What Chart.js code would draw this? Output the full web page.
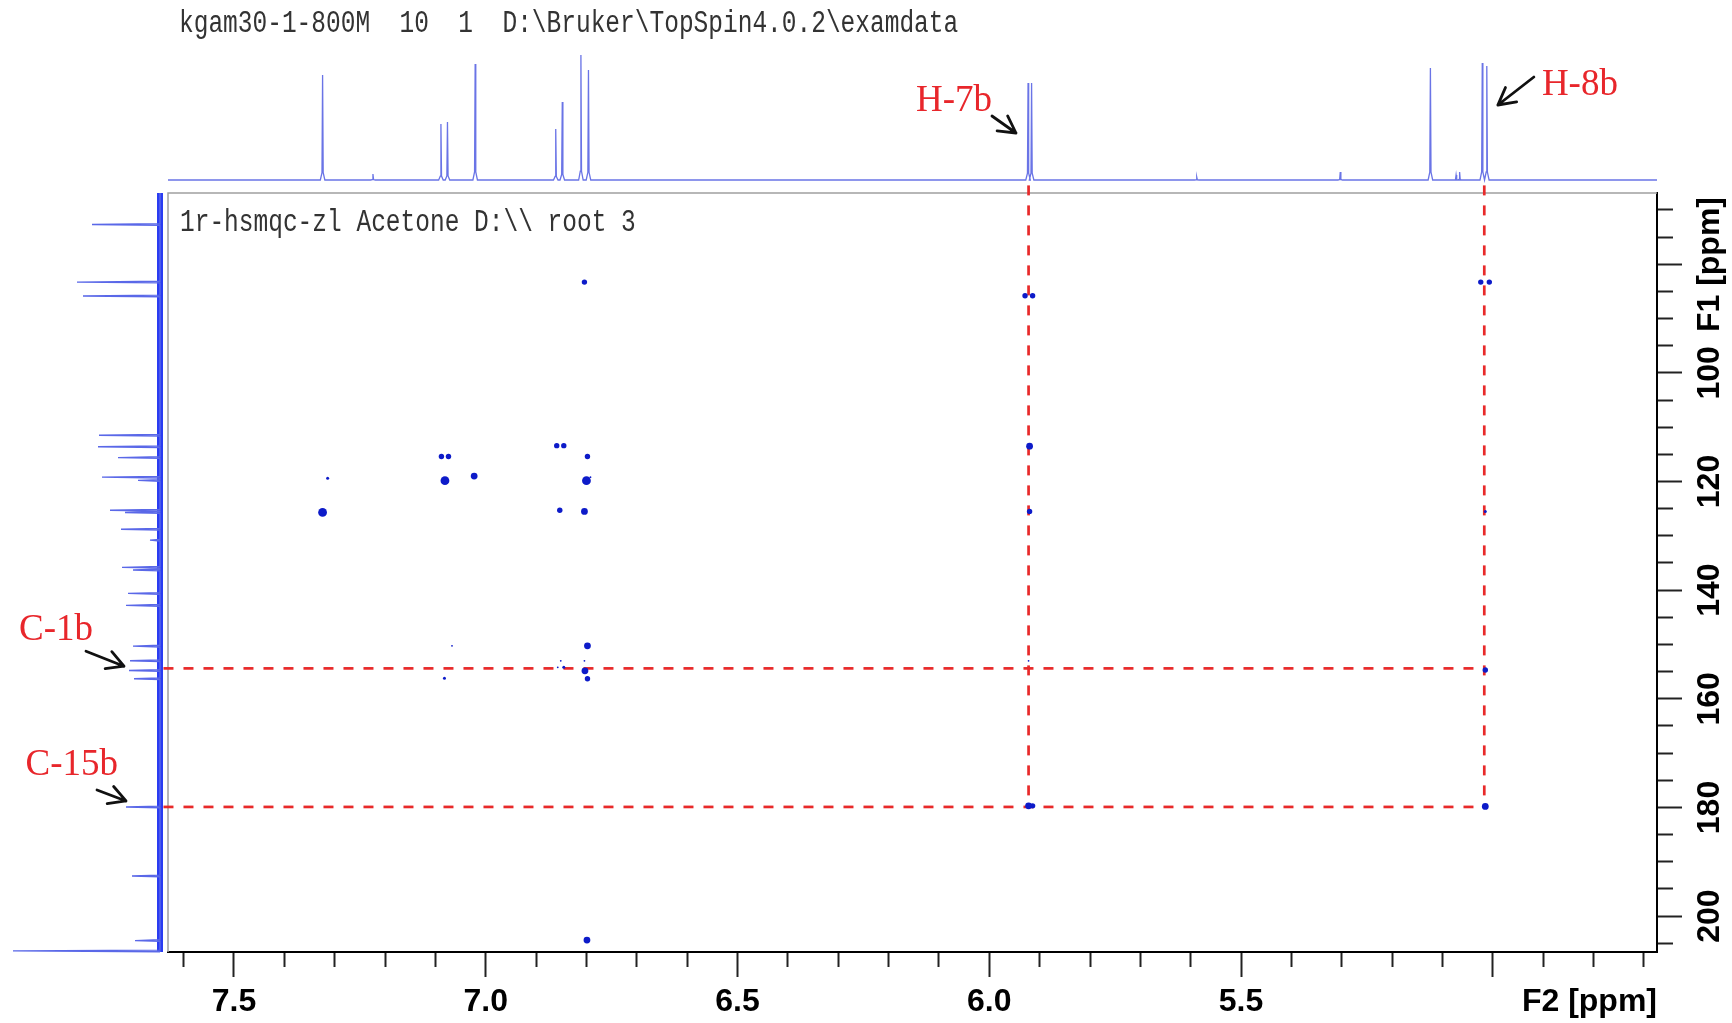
<!DOCTYPE html>
<html>
<head>
<meta charset="utf-8">
<script src="https://cdn.jsdelivr.net/npm/chart.js@4.4.0/dist/chart.umd.min.js"></script>
<style>
  body { margin: 0; background: #fff; }
  #wrap { position: relative; width: 1732px; height: 1023px; }
  .lbl { position: absolute; font-family: 'Liberation Mono', monospace; font-size: 24.5px; line-height: 30px;
         color: #333; white-space: pre; transform: scaleY(1.25); transform-origin: left center; }
</style>
</head>
<body>
<div id="wrap">
  <canvas id="c"></canvas>
  <div class="lbl" style="left:179px;top:9px">kgam30-1-800M  10  1  D:\Bruker\TopSpin4.0.2\examdata</div>
  <div class="lbl" style="left:180px;top:208px">1r-hsmqc-zl Acetone D:\\ root 3</div>
</div>
<script>
// axis ranges (ppm)
const f2Range = [4.674, 7.631];
const f1Range = [66.9, 206.6];
const f2Labels = [7.5, 7.0, 6.5, 6.0, 5.5];
const f1Labels = [100, 120, 140, 160, 180, 200];

// 1H projection (top): shift, height
const hPeakPpm = [7.324, 7.224, 7.089, 7.076, 7.021, 6.861, 6.848, 6.811, 6.796, 5.923, 5.916, 5.588, 5.303, 5.124, 5.073, 5.066, 5.021, 5.012];
const hPeakHeight = [105, 6, 56, 58, 116, 51, 78, 125, 110, 97, 97, 3, 8, 112, 5, 8, 117, 114];

// 13C projection (left): shift, height
const cPeakPpm = [72.7, 83.3, 85.85, 111.5, 113.6, 115.6, 119.2, 119.8, 125.3, 125.7, 128.8, 130.8, 135.8, 136.3, 140.6, 142.8, 150.3, 153.0, 154.8, 156.3, 179.9, 192.6, 204.5, 206.4];
const cPeakHeight = [68, 83, 77, 61, 62, 42, 58, 22, 50, 35, 39, 10, 38, 27, 32, 34, 27, 30, 31, 26, 34, 28, 25, 147];

// cross peaks [F2, F1]
const crossStrong = [[7.324, 125.7], [7.081, 119.85], [6.800, 119.85]];
const crossMedium = [[7.023, 119.0], [6.804, 125.5], [5.920, 113.5], [6.798, 150.25], [6.799, 204.4], [6.803, 154.85], [5.922, 179.7], [5.015, 179.8]];
const crossSmall = [[6.804, 83.3], [7.088, 115.4], [7.074, 115.4], [6.859, 113.4], [6.845, 113.4], [6.853, 125.3], [6.798, 115.4],
  [5.929, 85.8], [5.914, 85.8], [5.024, 83.3], [5.007, 83.3], [6.798, 156.3], [5.920, 125.5], [5.015, 154.7], [5.914, 179.7]];
const crossWeak = [[7.314, 119.4], [7.082, 156.2], [5.015, 125.5], [6.845, 154.2]];
const crossTiny = [[7.067, 150.25], [6.851, 153.0], [6.857, 154.2], [6.804, 153.0], [5.922, 153.0], [6.792, 119.2]];

// guide lines: H-7b, H-8b columns and C-1b, C-15b rows
const hLines = [5.922, 5.017];
const cLines = [154.4, 179.9];
const guideTop = 65.5;
const guideLeft = 7.64;

// annotations, tip in data units
const notes = [
  {text: 'H-7b', x: 5.947, y: 47, xs: 'x', ys: 'yTop'},
  {text: 'H-8b', x: 4.990, y: 75, xs: 'x', ys: 'yTop'},
  {text: 'C-1b', x: 36, y: 154.0, xs: 'xLeft', ys: 'y'},
  {text: 'C-15b', x: 34, y: 178.8, xs: 'xLeft', ys: 'y'}
];
const noteStyle = [
  {dx: -24, dy: -17, tx: -24, ty: -32, align: 'right'},
  {dx: 36, dy: -28, tx: 44, ty: -20, align: 'left'},
  {dx: -38, dy: -15, tx: -31, ty: -36, align: 'right'},
  {dx: -29, dy: -11, tx: -8, ty: -36, align: 'right'}
];

const pts = arr => arr.map(p => ({x: p[0], y: p[1]}));

// spike shapes for the projections
const topLine = [{x: f2Range[1], y: 0}];
hPeakPpm.forEach((p, i) => {
  const h = hPeakHeight[i];
  topLine.push({x: p + 0.0045, y: 0}, {x: p + 0.0012, y: 0.07 * h}, {x: p, y: h},
               {x: p - 0.0012, y: 0.07 * h}, {x: p - 0.0045, y: 0});
});
topLine.push({x: f2Range[0], y: 0});

const leftLine = [{x: 0, y: f1Range[0]}];
cPeakPpm.forEach((p, i) => {
  leftLine.push({x: 0, y: p - 0.15}, {x: cPeakHeight[i], y: p}, {x: 0, y: p + 0.15});
});
leftLine.push({x: 0, y: f1Range[1]});

const guides = [];
hLines.forEach(v => guides.push([{x: v, y: guideTop}, {x: v, y: cLines[1]}]));
cLines.forEach(v => guides.push([{x: guideLeft, y: v}, {x: hLines[1], y: v}]));

const isMajor = (v, step) => Math.abs(v / step - Math.round(v / step)) < 1e-6;
const tickFont = {family: '"Liberation Sans", Arial, sans-serif', size: 32, weight: 'bold'};
const dotColor = '#0d1bc9';
const dots = (data, r) => ({data: pts(data), pointRadius: r, pointBackgroundColor: dotColor, pointBorderWidth: 0, clip: false});

const decor = {
  id: 'decor',
  beforeDatasetsDraw(chart) {
    const {ctx, chartArea: a} = chart;
    ctx.save();
    ctx.strokeStyle = '#a0a0a0';
    ctx.lineWidth = 1.5;
    ctx.beginPath();
    ctx.moveTo(a.left, a.bottom);
    ctx.lineTo(a.left, a.top);
    ctx.lineTo(a.right, a.top);
    ctx.stroke();
    ctx.restore();
  },
  afterDraw(chart) {
    const {ctx, chartArea: a, scales} = chart;
    ctx.save();
    ctx.fillStyle = '#000';
    ctx.font = 'bold 32px "Liberation Sans", Arial, sans-serif';
    ctx.textBaseline = 'middle';
    const lx = scales.y.left + 53;
    f1Labels.forEach(v => {
      ctx.save();
      ctx.translate(lx, scales.y.getPixelForValue(v));
      ctx.rotate(-Math.PI / 2);
      ctx.textAlign = 'center';
      ctx.fillText(String(v), 0, 0);
      ctx.restore();
    });
    ctx.save();
    ctx.translate(lx, a.top + 4);
    ctx.rotate(-Math.PI / 2);
    ctx.textAlign = 'right';
    ctx.fillText('F1 [ppm]', 0, 0);
    ctx.restore();
    ctx.textAlign = 'right';
    ctx.fillText('F2 [ppm]', a.right, scales.x.top + 50);

    // arrows + labels
    notes.forEach((n, i) => {
      const s = noteStyle[i];
      const px = scales[n.xs].getPixelForValue(n.x);
      const py = scales[n.ys].getPixelForValue(n.y);
      const qx = px + s.dx, qy = py + s.dy;
      ctx.strokeStyle = '#111';
      ctx.lineWidth = 2.8;
      ctx.lineCap = 'round';
      ctx.beginPath();
      ctx.moveTo(qx, qy);
      ctx.lineTo(px, py);
      const ang = Math.atan2(qy - py, qx - px);
      [0.5, -0.5].forEach(d => {
        ctx.moveTo(px, py);
        ctx.lineTo(px + 19 * Math.cos(ang + d), py + 19 * Math.sin(ang + d));
      });
      ctx.stroke();
      ctx.fillStyle = '#e8262b';
      ctx.font = '37px "Liberation Serif", "Times New Roman", serif';
      ctx.textAlign = s.align;
      ctx.fillText(n.text, px + s.tx, py + s.ty);
    });
    ctx.restore();
  }
};

new Chart(document.getElementById('c'), {
  type: 'scatter',
  data: {
    datasets: [
      dots(crossStrong, 4.4),
      dots(crossMedium, 3.4),
      dots(crossSmall, 2.7),
      dots(crossWeak, 1.5),
      dots(crossTiny, 0.9),
      ...guides.map(g => ({data: g, showLine: true, pointRadius: 0, borderColor: '#e82a2a', borderWidth: 2.7, borderDash: [10, 10], clip: false})),
      {data: topLine, showLine: true, pointRadius: 0, borderColor: '#6a74e6', borderWidth: 1.3, clip: false, yAxisID: 'yTop'},
      {data: leftLine, showLine: true, pointRadius: 0, borderColor: '#5a68e8', borderWidth: 1.4, clip: false, xAxisID: 'xLeft'},
      {data: [{x: 0, y: f1Range[0]}, {x: 0, y: f1Range[1]}], showLine: true, pointRadius: 0, borderColor: '#2a3cf2', borderWidth: 6, clip: false, xAxisID: 'xLeft'}
    ]
  },
  options: {
    responsive: true,
    maintainAspectRatio: false,
    animation: false,
    layout: {padding: {left: 168, top: 193, right: 0, bottom: 0}},
    plugins: {legend: {display: false}, tooltip: {enabled: false}},
    scales: {
      x: {
        type: 'linear', position: 'bottom', reverse: true, min: f2Range[0], max: f2Range[1],
        afterFit: s => { s.height = 71; },
        border: {color: '#000', width: 2},
        grid: {
          drawOnChartArea: false, tickLength: 25, tickColor: '#222', tickWidth: 2,
          tickBorderDash: c => (c.tick && isMajor(c.tick.value, 0.5)) ? [] : [14, 100]
        },
        ticks: {
          stepSize: 0.1, includeBounds: false, autoSkip: false, minRotation: 0, maxRotation: 0, padding: 6,
          color: '#000', font: tickFont,
          callback: v => {
            const r = Math.round(v * 10) / 10;
            return f2Labels.includes(r) ? r.toFixed(1) : '';
          }
        }
      },
      y: {
        type: 'linear', position: 'right', reverse: true, min: f1Range[0], max: f1Range[1],
        afterFit: s => { s.width = 75; },
        border: {color: '#000', width: 2},
        grid: {
          drawOnChartArea: false, tickLength: 25, tickColor: '#222', tickWidth: 2,
          tickBorderDash: c => (c.tick && isMajor(c.tick.value, 20)) ? [] : [15, 100]
        },
        ticks: {stepSize: 5, includeBounds: false, display: false}
      },
      yTop: {type: 'linear', display: false, min: -772, max: -13},
      xLeft: {type: 'linear', display: false, reverse: true, min: -1497, max: -8}
    }
  },
  plugins: [decor]
});
</script>
</body>
</html>
